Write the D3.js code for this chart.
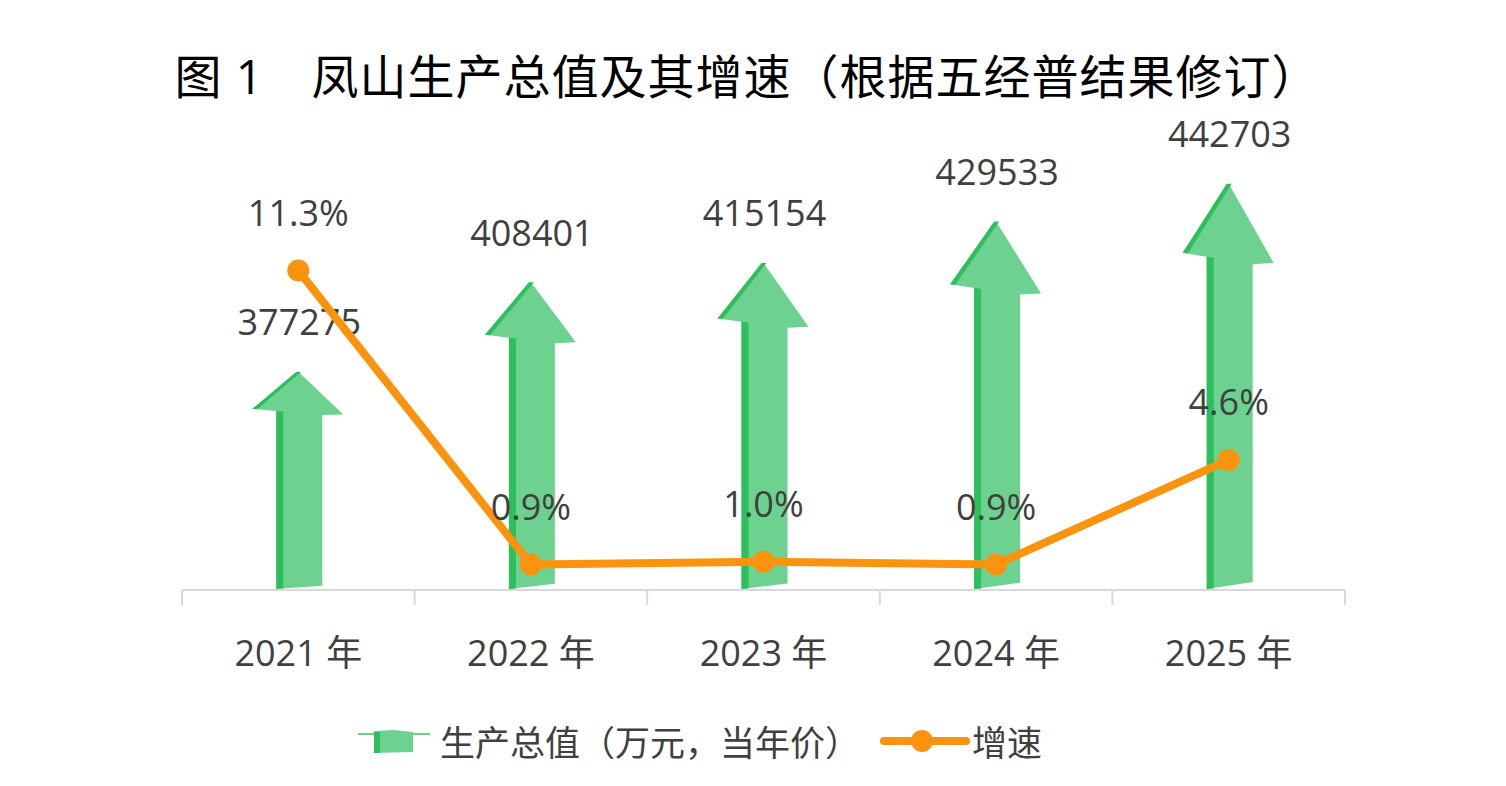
<!DOCTYPE html>
<html><head><meta charset="utf-8">
<script src="https://cdn.jsdelivr.net/npm/d3@7/dist/d3.min.js"></script>
<style>
html,body{margin:0;padding:0;background:#fff;}
svg{display:block;font-family:"Open Sans","Noto Sans CJK SC",sans-serif;}
</style></head>
<body>
<svg id="chart" width="1506" height="786"></svg>
<script>
const title = "图 1　凤山生产总值及其增速（根据五经普结果修订）";
const categories = ["2021 年", "2022 年", "2023 年", "2024 年", "2025 年"];
const gdpValues = [377275, 408401, 415154, 429533, 442703];
const growthValues = [11.3, 0.9, 1.0, 0.9, 4.6];
const growthLabels = ["11.3%", "0.9%", "1.0%", "0.9%", "4.6%"];
const legendNames = ["生产总值（万元，当年价）", "增速"];

const svg = d3.select("#chart");
const baseY = 590;
const light = "#6dd28f", dark = "#2ebe5c", orange = "#fc930f", textC = "#404040";

const x = d3.scaleBand().domain(categories).range([182, 1345]);
const yBar = d3.scaleLinear().domain([300000, 460000]).range([594, 134]);
const yPct = d3.scaleLinear().domain([0, 12]).range([baseY, baseY - 12 * 28.27]);
const cx = d => x(d) + x.bandwidth() / 2;

// title
svg.append("text").attr("x", 747).attr("y", 76).attr("text-anchor", "middle")
  .attr("dominant-baseline", "central").attr("font-size", 47).attr("letter-spacing", 1)
  .attr("fill", "#000").text(title);

// axis
const bounds = categories.map(c => x(c)).concat([x.range()[1]]);
svg.append("line").attr("x1", x.range()[0]).attr("x2", x.range()[1])
  .attr("y1", baseY).attr("y2", baseY).attr("stroke", "#d9d9d9").attr("stroke-width", 2);
svg.selectAll(".tick").data(bounds).enter().append("line")
  .attr("x1", d => d).attr("x2", d => d).attr("y1", baseY).attr("y2", baseY + 15)
  .attr("stroke", "#d9d9d9").attr("stroke-width", 2);
svg.selectAll(".cat").data(categories).enter().append("text")
  .attr("x", d => cx(d)).attr("y", 652).attr("text-anchor", "middle")
  .attr("dominant-baseline", "central").attr("font-size", 36).attr("fill", textC)
  .text(d => d);

// arrows
function arrowParts(c, top) {
  const H = baseY - top;
  const main = [
    [c, top], [c + 45, top + 0.195 * H], [c + 24, top + 0.198 * H],
    [c + 24, baseY - 0.02 * H], [c - 22, baseY - 1], [c - 22, top + 0.18 * H],
    [c - 46, top + 0.17 * H]
  ];
  const strip = [
    [c - 22, top + 0.18 * H], [c - 15, top + 0.182 * H], [c - 15, baseY - 1.5], [c - 22, baseY - 1]
  ];
  const edge = [
    [c - 2, top], [c + 3, top], [c - 41, top + 0.172 * H], [c - 46, top + 0.17 * H]
  ];
  return {main, strip, edge};
}
const line = d3.line();
const arrows = svg.append("g");
categories.forEach((c, i) => {
  const top = yBar(gdpValues[i]);
  const p = arrowParts(cx(c), top);
  arrows.append("path").attr("d", line(p.main) + "Z").attr("fill", light);
  arrows.append("path").attr("d", line(p.strip) + "Z").attr("fill", dark);
  arrows.append("path").attr("d", line(p.edge) + "Z").attr("fill", dark);
});

// bar labels
svg.selectAll(".bl").data(gdpValues).enter().append("text")
  .attr("x", (d, i) => cx(categories[i]) + 1).attr("y", d => yBar(d) - 50)
  .attr("text-anchor", "middle").attr("dominant-baseline", "central")
  .attr("font-size", 36).attr("fill", textC).text(d => d);

// growth line
const gl = d3.line().x((d, i) => cx(categories[i])).y(d => yPct(d));
svg.append("path").datum(growthValues).attr("d", gl).attr("fill", "none")
  .attr("stroke", orange).attr("stroke-width", 8).attr("stroke-linejoin", "round");
svg.selectAll(".pt").data(growthValues).enter().append("circle")
  .attr("cx", (d, i) => cx(categories[i])).attr("cy", d => yPct(d)).attr("r", 11)
  .attr("fill", orange);
svg.selectAll(".pl").data(growthValues).enter().append("text")
  .attr("x", (d, i) => cx(categories[i])).attr("y", d => yPct(d) - 58)
  .attr("text-anchor", "middle").attr("dominant-baseline", "central")
  .attr("font-size", 36).attr("fill", textC).text((d, i) => growthLabels[i]);

// legend
const lg = svg.append("g");
lg.append("path").attr("d", line([[358, 733], [430, 733], [430, 735], [358, 735]]) + "Z").attr("fill", light);
lg.append("path").attr("d", line([[374, 731], [394, 730], [413, 732], [413, 752], [374, 753]]) + "Z").attr("fill", light);
lg.append("rect").attr("x", 374).attr("y", 732).attr("width", 6).attr("height", 21).attr("fill", dark);
lg.append("text").attr("x", 440).attr("y", 742).attr("dominant-baseline", "central")
  .attr("font-size", 35).attr("fill", textC).text(legendNames[0]);
lg.append("line").attr("x1", 884).attr("x2", 966).attr("y1", 741).attr("y2", 741)
  .attr("stroke", orange).attr("stroke-width", 8).attr("stroke-linecap", "round");
lg.append("circle").attr("cx", 922).attr("cy", 741).attr("r", 11).attr("fill", orange);
lg.append("text").attr("x", 972).attr("y", 742).attr("dominant-baseline", "central")
  .attr("font-size", 35).attr("fill", textC).text(legendNames[1]);
</script>
</body></html>
